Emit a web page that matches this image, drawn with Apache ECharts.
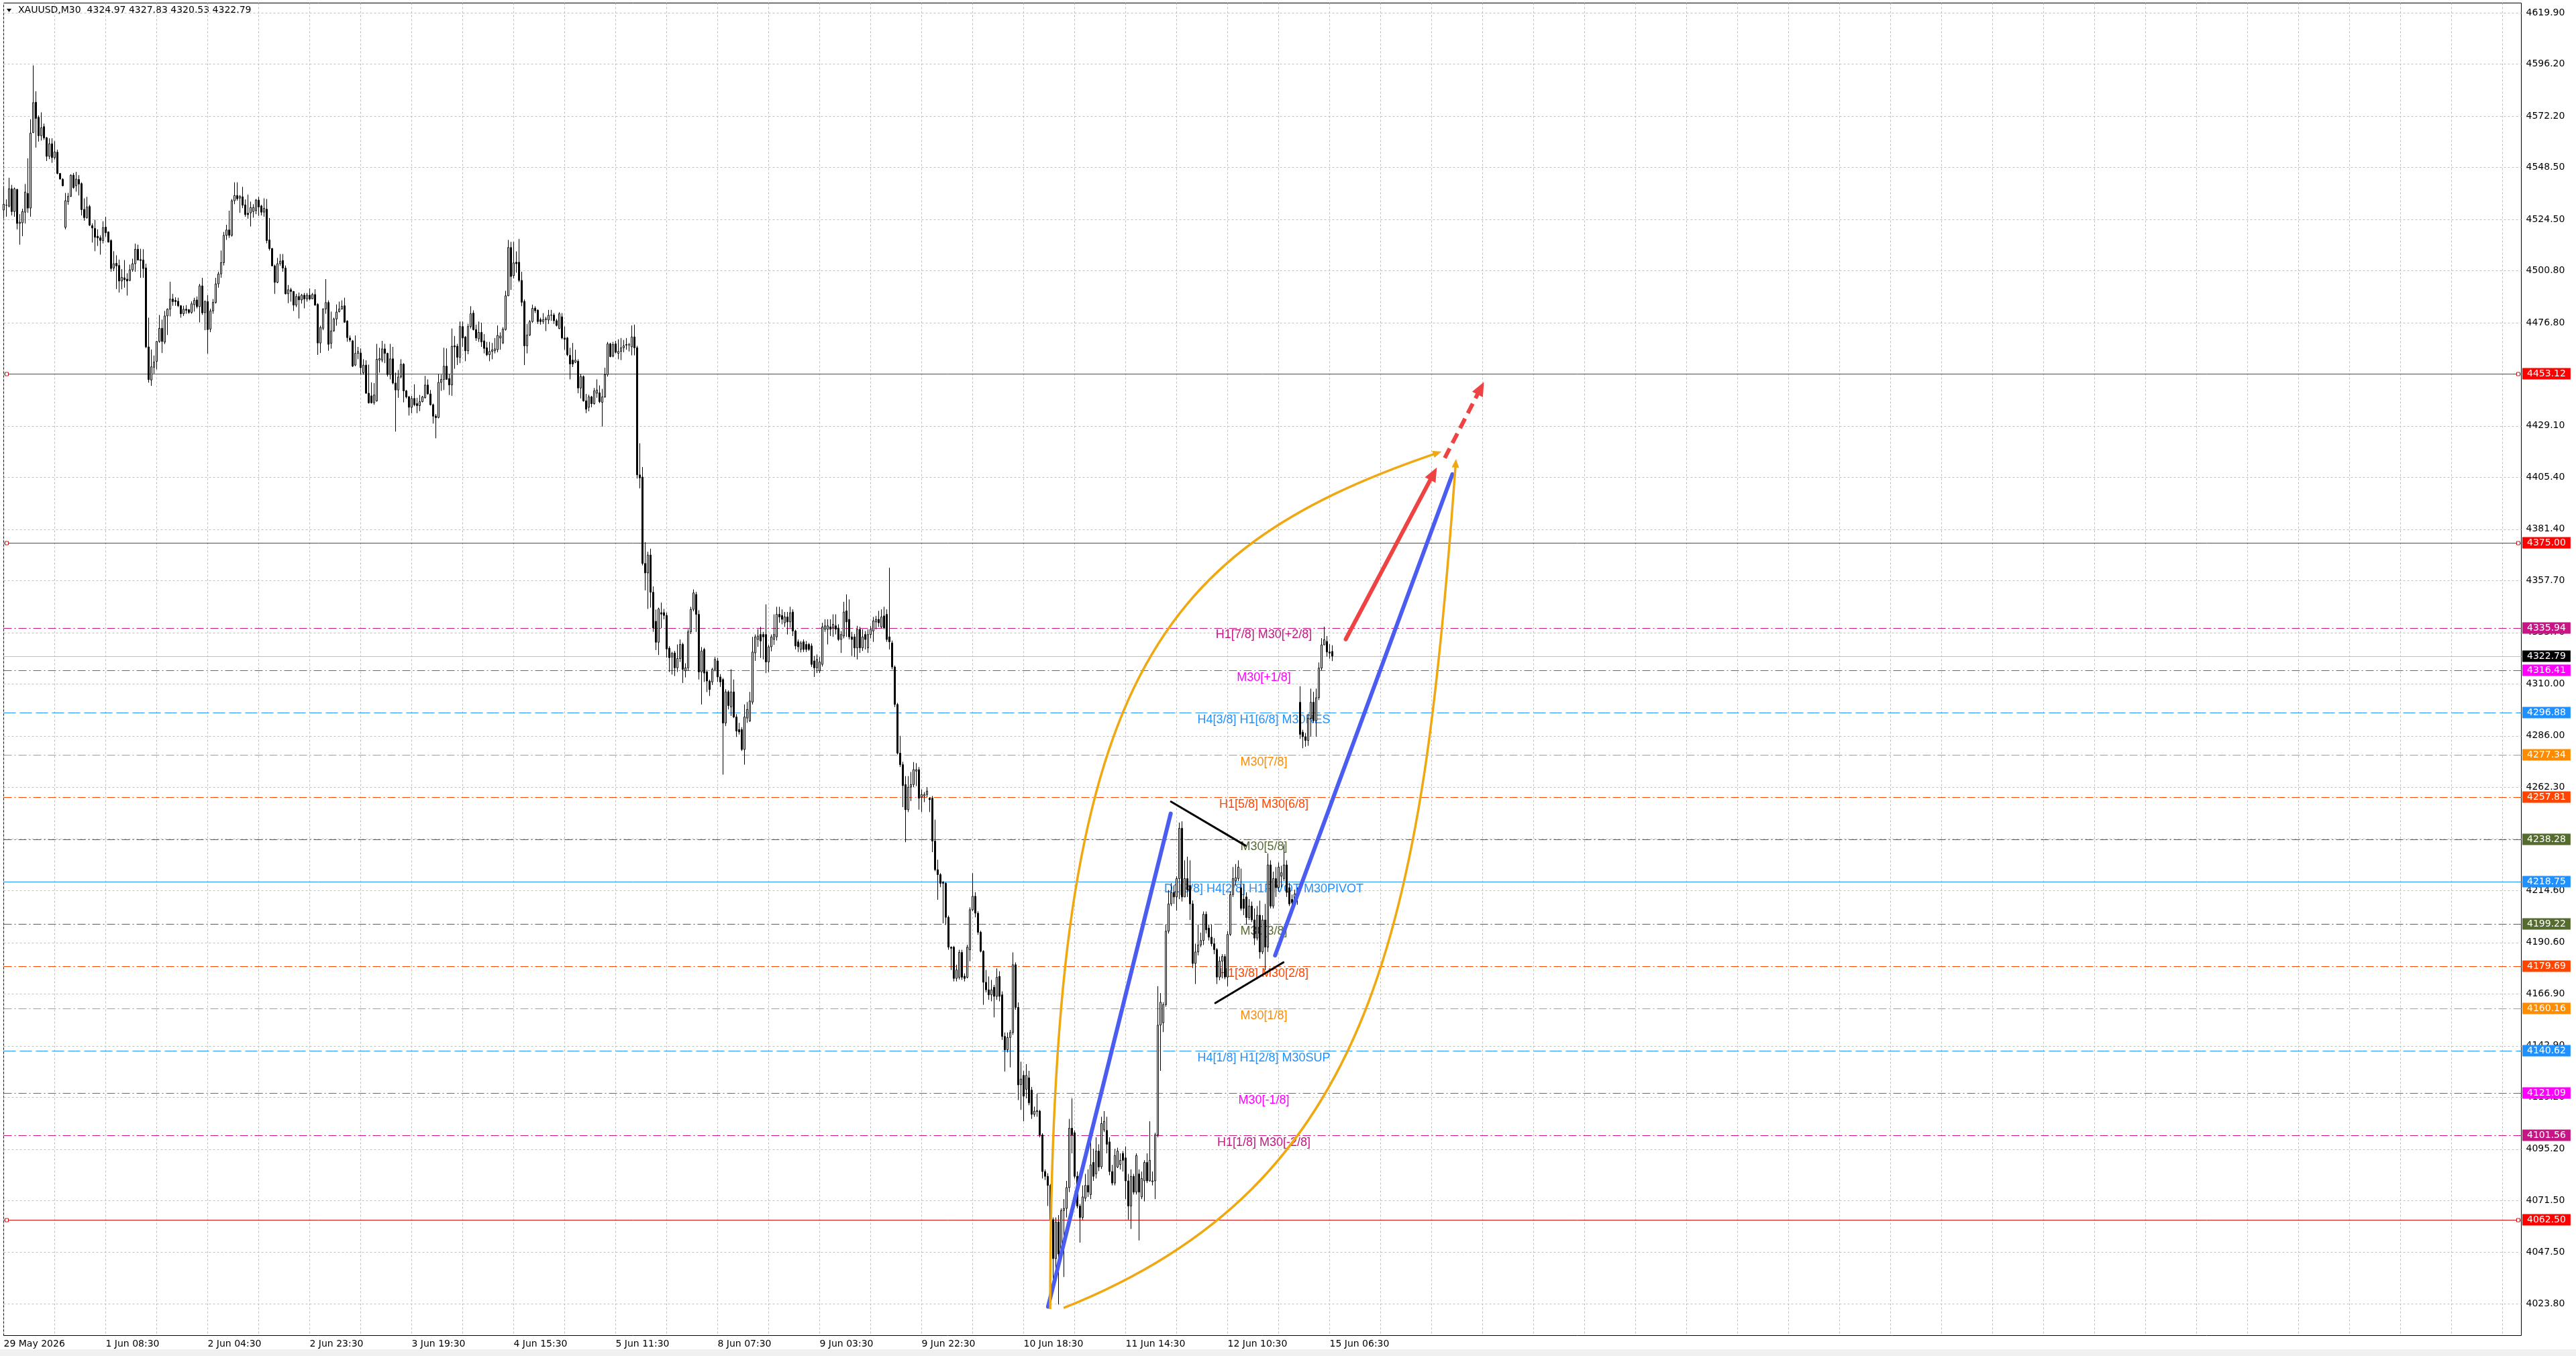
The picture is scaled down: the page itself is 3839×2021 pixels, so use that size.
<!DOCTYPE html>
<html>
<head>
<meta charset="utf-8">
<script src="https://cdn.jsdelivr.net/npm/echarts@6/dist/echarts.min.js"></script>
<style>
html,body{margin:0;padding:0;background:#ffffff;}
#c{width:3839px;height:2021px;}
</style>
</head>
<body>
<div id="c"></div>
<script>
// ---------------- DATA ----------------
const symbolName = 'XAUUSD,M30';
const timeLabels = ['29 May 2026','1 Jun 08:30','2 Jun 04:30','2 Jun 23:30','3 Jun 19:30','4 Jun 15:30','5 Jun 11:30',
  '8 Jun 07:30','9 Jun 03:30','9 Jun 22:30','10 Jun 18:30','11 Jun 14:30','12 Jun 10:30','15 Jun 06:30'];
const LABEL_STEP = 38;      // bars between time labels
const GRID_STEP = 19;       // bars between vertical grid lines
const TOTAL_SLOTS = 939;    // bar slots on the time axis (incl. empty future space)

// candles: [open, close, low, high]
const ohlc = [
[4528.8,4531.5,4525.1,4539.8],[4531.0,4531.0,4525.7,4533.7],[4530.6,4538.6,4530.0,4543.7],[4538.6,4528.1,4526.3,4540.4],[4528.1,4538.6,4525.7,4539.2],
[4538.3,4522.6,4519.9,4538.6],[4522.6,4523.2,4512.8,4526.9],[4522.9,4528.1,4516.7,4529.4],[4527.8,4537.1,4522.6,4540.8],[4536.5,4529.7,4527.5,4552.7],
[4529.7,4564.3,4525.7,4570.7],[4564.6,4578.4,4564.3,4595.6],[4578.6,4571.1,4557.6,4583.6],[4571.6,4563.1,4560.4,4572.5],[4563.1,4566.8,4560.9,4573.9],
[4567.3,4562.1,4561.2,4568.7],[4562.2,4553.6,4551.4,4562.5],[4553.6,4559.4,4552.3,4561.9],[4559.4,4553.0,4550.6,4561.9],[4553.0,4555.6,4552.1,4560.6],
[4555.5,4545.7,4545.3,4556.7],[4545.7,4543.1,4542.9,4545.9],[4543.0,4540.0,4539.8,4543.5],[4520.8,4533.1,4519.9,4536.7],[4532.7,4535.1,4531.2,4536.7],
[4535.1,4544.9,4534.9,4545.3],[4544.9,4539.2,4538.6,4545.9],[4540.0,4543.1,4537.3,4546.4],[4542.9,4540.8,4535.5,4544.9],[4541.0,4529.0,4526.3,4541.6],
[4529.1,4525.3,4523.9,4534.2],[4525.3,4530.2,4524.8,4534.9],[4530.4,4521.8,4521.4,4531.2],[4521.6,4520.5,4513.8,4522.6],[4520.3,4516.2,4509.8,4524.3],
[4516.7,4515.9,4512.2,4519.9],[4516.0,4514.8,4508.2,4517.1],[4514.7,4520.7,4513.4,4523.6],[4520.9,4518.3,4516.5,4525.7],[4518.7,4514.0,4513.8,4518.9],
[4514.7,4501.8,4500.3,4515.3],[4502.0,4504.0,4500.6,4509.8],[4504.2,4503.0,4492.3,4507.9],[4503.2,4496.0,4490.7,4505.9],[4496.0,4497.7,4492.2,4501.5],
[4497.5,4496.6,4492.9,4505.7],[4496.9,4496.0,4489.3,4499.6],[4496.3,4501.2,4495.9,4503.6],[4501.2,4504.0,4500.3,4506.3],[4504.0,4510.7,4500.3,4513.3],
[4510.7,4505.7,4505.5,4512.8],[4505.9,4505.5,4497.5,4510.9],[4505.7,4501.8,4497.5,4510.7],[4502.1,4465.6,4465.0,4504.0],[4465.6,4450.5,4449.1,4479.1],
[4450.3,4456.4,4447.6,4464.4],[4456.2,4458.6,4453.3,4461.6],[4458.9,4468.1,4455.2,4468.3],[4468.1,4474.2,4467.5,4480.3],[4474.2,4468.1,4462.8,4478.2],
[4467.8,4479.9,4466.9,4482.2],[4479.9,4483.0,4471.1,4483.4],[4483.0,4487.7,4479.7,4495.7],[4487.7,4486.5,4484.6,4490.1],[4487.1,4486.5,4484.6,4488.5],
[4486.7,4484.6,4484.0,4488.3],[4484.6,4480.9,4479.1,4484.9],[4480.9,4483.0,4479.9,4484.6],[4483.0,4482.5,4480.9,4484.9],[4482.8,4481.5,4480.9,4483.1],
[4481.5,4485.5,4480.9,4486.6],[4485.1,4487.1,4481.9,4488.3],[4487.3,4484.2,4483.4,4488.9],[4484.2,4493.8,4476.9,4494.7],[4493.8,4481.3,4480.4,4497.5],
[4481.4,4486.5,4473.3,4487.1],[4486.5,4473.6,4462.5,4489.5],[4473.8,4482.2,4472.4,4483.2],[4482.2,4486.2,4480.9,4487.7],[4486.1,4494.7,4485.6,4497.5],
[4494.7,4499.3,4492.9,4500.3],[4499.3,4504.5,4497.5,4510.1],[4504.5,4517.1,4503.2,4518.7],[4517.1,4519.6,4515.0,4522.0],[4519.6,4517.1,4515.9,4528.5],
[4517.1,4533.1,4516.5,4533.9],[4533.1,4535.5,4531.5,4541.6],[4535.5,4534.0,4533.1,4541.6],[4534.3,4535.1,4527.5,4535.7],[4534.9,4531.0,4529.7,4539.5],
[4531.2,4526.7,4525.7,4533.7],[4527.3,4526.7,4524.8,4535.9],[4527.5,4530.0,4521.2,4532.7],[4528.1,4530.0,4525.3,4531.5],[4528.5,4533.4,4526.9,4533.9],
[4533.4,4530.2,4526.1,4534.9],[4530.7,4527.8,4526.3,4531.2],[4527.8,4529.6,4525.7,4534.2],[4529.2,4514.7,4513.4,4533.9],[4515.0,4511.0,4510.1,4525.1],
[4511.0,4503.0,4502.8,4511.3],[4503.0,4495.4,4490.1,4503.6],[4495.4,4504.0,4495.0,4506.7],[4504.0,4505.2,4503.0,4508.5],[4505.5,4502.0,4500.3,4508.5],
[4502.0,4490.1,4489.8,4503.2],[4490.1,4492.0,4485.8,4494.2],[4492.0,4491.2,4486.5,4492.9],[4491.2,4484.9,4482.2,4491.4],[4484.9,4488.9,4484.0,4490.1],
[4488.9,4487.3,4478.7,4490.7],[4487.3,4489.5,4485.6,4490.1],[4489.5,4487.7,4483.4,4490.5],[4487.7,4489.5,4486.5,4490.5],[4489.5,4487.7,4487.1,4492.6],
[4487.8,4489.8,4487.7,4490.5],[4489.8,4484.9,4484.6,4492.2],[4485.2,4467.4,4461.9,4485.8],[4467.4,4474.6,4462.8,4475.4],[4474.2,4483.1,4473.3,4483.4],
[4483.1,4486.1,4480.9,4496.9],[4486.1,4466.8,4463.8,4487.1],[4467.2,4473.0,4464.8,4481.9],[4473.0,4478.5,4472.6,4479.1],[4478.5,4481.7,4475.4,4485.2],
[4481.9,4483.1,4481.5,4486.5],[4483.1,4484.4,4482.8,4487.1],[4484.6,4477.0,4476.7,4488.3],[4477.5,4469.9,4468.0,4477.9],[4469.7,4468.8,4467.9,4470.9],
[4468.4,4456.7,4456.3,4468.8],[4457.2,4462.6,4456.7,4470.9],[4462.6,4463.5,4459.9,4465.6],[4462.8,4456.0,4452.8,4464.9],[4453.7,4457.2,4452.8,4459.9],
[4457.2,4444.2,4443.9,4459.4],[4444.2,4439.8,4439.4,4457.4],[4443.0,4439.8,4439.4,4449.2],[4439.8,4443.4,4438.9,4448.9],[4440.7,4459.9,4440.3,4467.0],
[4459.5,4460.2,4453.7,4465.2],[4459.5,4464.7,4458.5,4468.4],[4464.7,4462.6,4458.1,4467.0],[4462.6,4452.8,4451.9,4462.9],[4452.8,4460.1,4450.6,4467.0],
[4460.1,4448.9,4448.3,4465.6],[4448.9,4445.7,4426.5,4453.7],[4445.7,4451.7,4442.1,4454.9],[4451.7,4457.6,4451.0,4459.9],[4457.6,4445.3,4440.0,4458.1],
[4445.3,4442.5,4441.8,4445.7],[4442.5,4437.7,4433.9,4443.0],[4437.7,4441.8,4435.0,4443.0],[4441.8,4438.9,4438.2,4448.3],[4439.4,4438.5,4435.0,4442.1],
[4438.5,4440.3,4435.9,4443.4],[4440.3,4442.5,4440.0,4443.0],[4442.1,4448.0,4441.8,4452.2],[4448.0,4443.9,4443.5,4450.6],[4443.9,4438.9,4438.5,4445.7],
[4438.9,4433.6,4430.2,4439.4],[4433.7,4432.9,4423.4,4434.6],[4433.0,4449.2,4432.6,4453.1],[4449.2,4450.6,4445.3,4452.8],[4450.6,4456.7,4445.7,4465.2],
[4456.7,4450.6,4450.5,4464.9],[4451.0,4448.0,4443.4,4453.1],[4448.0,4465.9,4443.0,4474.1],[4466.1,4465.6,4455.5,4470.6],[4465.9,4460.8,4457.2,4467.0],
[4460.8,4475.0,4458.1,4477.3],[4475.0,4469.7,4465.6,4477.3],[4470.2,4463.8,4459.0,4470.6],[4463.8,4475.0,4462.2,4476.2],[4475.0,4480.9,4474.1,4484.4],
[4481.2,4473.6,4473.2,4482.5],[4473.6,4469.7,4468.4,4475.9],[4469.3,4472.3,4467.9,4477.3],[4472.3,4467.9,4465.6,4476.8],[4468.4,4464.9,4462.6,4471.5],
[4465.2,4462.0,4461.3,4467.9],[4462.0,4463.5,4459.0,4467.9],[4463.5,4464.2,4459.9,4467.4],[4463.8,4464.7,4462.6,4469.7],[4464.3,4470.9,4463.1,4475.5],
[4469.7,4470.6,4464.3,4472.3],[4467.4,4473.8,4467.0,4474.7],[4473.6,4489.2,4473.1,4491.5],[4489.2,4511.5,4489.1,4515.0],[4511.5,4498.1,4491.9,4514.1],
[4498.5,4504.4,4497.2,4514.1],[4504.7,4504.0,4499.9,4509.7],[4504.7,4496.3,4495.5,4515.4],[4496.3,4486.2,4484.4,4500.3],[4486.6,4466.1,4457.2,4487.5],
[4466.1,4471.1,4462.6,4476.2],[4471.1,4477.3,4470.6,4478.0],[4477.3,4483.4,4476.8,4485.1],[4483.5,4482.3,4481.2,4484.4],[4482.5,4477.3,4476.2,4483.0],
[4478.2,4477.3,4475.9,4479.1],[4477.3,4478.2,4476.2,4481.2],[4478.2,4478.6,4472.9,4479.5],[4478.0,4480.2,4476.2,4482.7],[4480.2,4480.3,4477.7,4482.7],
[4480.3,4477.7,4476.2,4481.2],[4477.7,4475.5,4475.0,4478.6],[4474.1,4480.9,4473.8,4481.6],[4479.5,4469.7,4469.1,4481.2],[4469.7,4469.1,4464.3,4475.0],
[4469.7,4462.0,4461.3,4470.2],[4461.7,4457.7,4450.6,4465.2],[4459.5,4457.7,4456.3,4467.4],[4458.5,4459.5,4458.1,4464.3],[4459.0,4446.6,4444.2,4459.9],
[4446.6,4451.9,4441.8,4453.1],[4451.9,4440.7,4440.3,4452.4],[4440.7,4436.8,4435.0,4443.9],[4437.7,4442.5,4435.9,4443.5],[4442.5,4439.4,4437.7,4443.0],
[4439.4,4445.3,4438.9,4446.6],[4444.2,4445.7,4442.1,4450.6],[4444.4,4440.3,4439.6,4447.8],[4440.0,4442.5,4428.8,4446.2],[4442.5,4452.8,4442.1,4456.0],
[4452.8,4467.0,4451.9,4467.9],[4467.0,4461.1,4460.8,4467.5],[4461.3,4466.7,4460.8,4467.9],[4467.0,4463.1,4462.6,4468.4],[4462.6,4463.5,4459.9,4469.1],
[4463.5,4465.2,4459.5,4469.7],[4465.2,4466.1,4463.1,4468.8],[4466.4,4466.7,4464.3,4469.7],[4466.6,4466.5,4463.5,4467.4],[4465.6,4470.2,4461.7,4475.5],
[4470.2,4465.2,4461.7,4475.9],[4465.2,4406.5,4404.8,4466.1],[4406.5,4405.1,4400.3,4421.1],[4405.5,4365.6,4364.7,4410.1],[4365.6,4361.2,4353.2,4375.4],
[4361.2,4369.5,4344.6,4371.0],[4369.5,4352.3,4345.2,4372.4],[4352.3,4335.8,4334.0,4355.0],[4338.9,4329.2,4325.6,4344.3],[4329.2,4344.6,4323.3,4345.2],
[4342.9,4342.2,4335.8,4347.5],[4342.9,4341.6,4339.8,4344.6],[4341.6,4326.1,4322.1,4342.9],[4326.5,4322.1,4315.5,4327.4],[4322.4,4324.1,4314.3,4324.8],
[4324.3,4317.4,4313.6,4325.2],[4317.4,4321.7,4315.5,4328.2],[4321.7,4328.2,4320.1,4330.5],[4328.2,4316.7,4310.4,4329.0],[4316.0,4317.4,4313.0,4319.5],
[4317.4,4334.0,4316.0,4335.2],[4334.0,4344.4,4333.0,4345.6],[4344.4,4352.0,4343.5,4353.6],[4351.3,4342.1,4334.0,4352.5],[4342.1,4315.5,4312.0,4344.0],
[4315.5,4325.2,4300.5,4327.0],[4325.9,4315.0,4310.9,4326.6],[4315.5,4311.3,4306.2,4316.5],[4311.3,4307.4,4304.4,4312.0],[4310.9,4316.7,4309.5,4317.4],
[4316.7,4321.3,4315.8,4322.4],[4320.6,4313.2,4310.9,4322.0],[4313.2,4310.9,4308.6,4314.5],[4312.0,4291.9,4268.1,4312.7],[4291.9,4306.3,4290.5,4307.5],
[4306.3,4300.0,4298.2,4307.0],[4299.3,4306.3,4295.2,4316.7],[4306.3,4294.7,4294.2,4312.0],[4294.7,4288.2,4285.5,4296.0],[4288.9,4287.8,4286.6,4292.0],
[4288.9,4279.7,4279.0,4290.0],[4279.7,4294.7,4272.7,4300.5],[4294.2,4298.2,4292.0,4301.6],[4292.9,4302.1,4292.4,4306.3],[4301.6,4324.7,4300.5,4331.7],
[4324.3,4331.7,4320.6,4332.8],[4330.5,4332.1,4327.1,4335.2],[4332.8,4329.8,4322.0,4336.3],[4332.8,4331.7,4321.3,4334.0],[4332.8,4320.1,4315.0,4346.7],
[4320.1,4327.1,4315.5,4328.0],[4327.1,4331.7,4325.0,4332.8],[4330.5,4332.8,4328.0,4342.1],[4331.7,4342.1,4330.0,4345.6],[4342.1,4340.9,4338.2,4345.6],
[4341.6,4339.8,4337.5,4344.4],[4338.2,4340.9,4336.3,4343.2],[4340.9,4338.6,4332.8,4343.2],[4338.6,4342.8,4336.0,4345.6],[4343.2,4334.4,4332.1,4344.4],
[4334.4,4327.5,4325.9,4335.0],[4329.4,4327.1,4324.7,4330.5],[4325.9,4328.9,4324.5,4329.8],[4329.4,4325.9,4324.7,4330.5],[4328.2,4325.9,4324.7,4329.8],
[4328.2,4325.9,4325.2,4328.9],[4327.5,4319.0,4317.8,4328.7],[4320.6,4317.4,4313.2,4322.9],[4317.4,4321.3,4315.0,4323.6],[4316.0,4320.1,4315.0,4322.4],
[4319.0,4336.3,4318.0,4338.2],[4335.2,4336.8,4334.0,4339.8],[4335.2,4336.8,4328.2,4339.8],[4336.3,4335.2,4332.1,4339.8],[4335.8,4337.5,4331.7,4342.1],
[4336.8,4335.2,4332.8,4342.1],[4335.8,4330.5,4329.8,4337.5],[4330.5,4332.8,4324.3,4334.4],[4332.1,4343.2,4331.0,4347.9],[4343.7,4338.6,4331.7,4351.3],
[4339.8,4331.7,4330.5,4349.0],[4331.7,4330.5,4322.9,4334.0],[4331.7,4326.6,4322.4,4333.0],[4326.6,4335.2,4321.3,4336.8],[4335.2,4326.6,4324.3,4336.3],
[4326.6,4331.7,4325.2,4335.2],[4332.8,4330.5,4325.9,4334.4],[4326.6,4332.8,4324.3,4335.2],[4332.8,4335.2,4331.0,4336.8],[4334.4,4339.1,4329.4,4340.9],
[4338.6,4339.8,4335.2,4341.4],[4339.8,4338.2,4336.3,4343.7],[4336.3,4340.9,4335.8,4344.4],[4341.4,4335.8,4335.2,4345.6],[4342.1,4330.5,4329.4,4344.4],
[4331.7,4329.4,4325.9,4363.6],[4328.9,4317.8,4316.7,4330.0],[4317.8,4300.5,4299.3,4318.5],[4300.5,4278.0,4277.4,4301.2],[4278.0,4272.7,4271.6,4286.0],
[4272.7,4263.0,4253.1,4274.0],[4263.5,4251.9,4236.9,4267.4],[4251.9,4262.3,4250.8,4267.4],[4262.3,4263.5,4255.9,4269.3],[4263.5,4270.4,4262.3,4273.9],
[4269.7,4270.4,4262.8,4273.4],[4270.4,4257.2,4251.9,4271.6],[4257.7,4258.9,4250.8,4261.2],[4258.2,4258.9,4255.4,4260.0],[4258.9,4260.5,4257.7,4262.3],
[4257.2,4256.5,4250.8,4257.7],[4257.2,4237.4,4232.3,4258.2],[4237.4,4224.2,4223.5,4247.3],[4224.2,4221.9,4210.3,4228.8],[4221.9,4217.9,4216.1,4222.6],
[4218.4,4217.9,4199.4,4218.9],[4217.9,4202.2,4198.7,4218.4],[4202.2,4188.4,4187.2,4203.0],[4188.4,4187.9,4177.9,4188.8],[4188.4,4174.0,4172.6,4189.0],
[4174.0,4177.9,4172.6,4180.3],[4174.5,4186.0,4173.5,4187.2],[4186.0,4174.5,4173.3,4187.2],[4175.0,4174.0,4172.6,4176.3],[4174.5,4188.4,4174.0,4189.5],
[4187.2,4205.7,4181.9,4206.8],[4205.7,4211.9,4205.0,4222.6],[4211.9,4204.1,4202.2,4213.8],[4204.1,4195.3,4194.1,4205.0],[4195.3,4186.5,4186.0,4196.0],
[4186.5,4172.2,4161.8,4187.0],[4172.2,4168.7,4167.5,4177.9],[4168.7,4166.4,4164.1,4174.9],[4166.4,4168.7,4163.4,4173.3],[4169.9,4165.7,4156.0,4171.0],
[4165.7,4174.5,4164.1,4178.6],[4174.9,4165.7,4163.4,4177.3],[4166.4,4147.2,4145.6,4168.0],[4147.2,4141.0,4131.0,4149.0],[4141.0,4146.7,4139.8,4149.0],
[4146.7,4149.0,4132.9,4150.2],[4149.0,4180.3,4147.9,4186.0],[4180.3,4160.6,4159.5,4181.4],[4160.6,4124.8,4117.8,4162.9],[4124.9,4127.5,4113.3,4135.5],
[4129.2,4119.6,4108.0,4131.3],[4122.8,4129.2,4118.6,4134.4],[4128.1,4116.5,4115.4,4131.3],[4122.4,4111.2,4109.1,4123.9],[4111.2,4112.7,4110.1,4114.8],
[4112.5,4112.9,4110.1,4120.7],[4112.7,4101.7,4100.6,4113.3],[4101.7,4084.8,4081.6,4102.5],[4084.8,4082.6,4080.9,4085.8],[4082.6,4078.4,4068.9,4084.0],
[4078.4,4062.6,4050.9,4079.0],[4062.6,4044.6,4031.9,4063.6],[4044.6,4061.5,4039.3,4063.6],[4061.5,4046.7,4023.4,4064.7],[4046.7,4066.8,4044.6,4067.8],
[4066.8,4067.8,4036.1,4072.1],[4067.8,4077.4,4063.6,4080.5],[4077.4,4104.8,4075.3,4109.1],[4104.8,4101.7,4093.2,4118.6],[4102.7,4082.6,4081.6,4103.8],
[4082.6,4068.9,4067.8,4084.8],[4068.9,4063.6,4052.0,4069.9],[4063.6,4073.1,4062.6,4078.4],[4072.5,4078.4,4071.0,4083.7],[4078.4,4075.3,4073.1,4085.8],
[4074.2,4087.9,4072.1,4102.7],[4089.0,4082.6,4080.5,4095.3],[4083.7,4094.3,4081.6,4100.6],[4094.3,4086.9,4085.0,4097.4],[4087.0,4107.0,4086.0,4110.1],
[4104.0,4108.0,4103.0,4112.7],[4103.8,4097.4,4093.2,4110.1],[4098.5,4084.8,4083.1,4100.6],[4084.8,4079.5,4078.4,4087.9],[4079.5,4092.2,4078.4,4095.3],
[4086.9,4094.3,4086.4,4095.8],[4088.0,4090.0,4085.8,4093.2],[4093.2,4090.0,4084.8,4094.3],[4091.1,4080.5,4072.1,4096.4],[4080.5,4068.9,4062.6,4083.7],
[4068.9,4082.6,4058.3,4085.8],[4082.6,4075.3,4074.2,4083.7],[4075.3,4092.2,4074.2,4093.2],[4083.7,4075.3,4053.0,4085.8],[4073.1,4081.6,4072.1,4084.8],
[4080.5,4089.0,4071.0,4090.0],[4089.0,4080.5,4079.5,4093.2],[4080.5,4090.0,4080.1,4108.0],[4080.1,4080.5,4078.4,4084.8],[4080.5,4101.7,4072.1,4102.7],
[4101.7,4152.4,4100.6,4170.4],[4152.4,4163.0,4131.3,4167.2],[4153.5,4161.9,4149.2,4163.0],[4161.9,4195.8,4160.9,4198.9],[4195.8,4208.4,4194.7,4214.8],
[4208.4,4213.7,4207.4,4218.0],[4213.7,4211.6,4208.4,4216.9],[4211.6,4220.1,4205.3,4221.1],[4220.1,4243.3,4210.6,4245.9],[4243.3,4211.6,4209.5,4246.5],
[4211.6,4220.1,4211.6,4228.5],[4220.1,4214.8,4211.6,4230.2],[4216.9,4208.4,4201.0,4228.5],[4208.4,4180.9,4178.8,4210.0],[4180.9,4186.2,4171.4,4190.0],
[4186.2,4189.4,4184.6,4198.9],[4189.4,4191.5,4188.4,4195.1],[4191.5,4203.6,4189.4,4204.9],[4203.6,4196.4,4194.7,4204.9],[4197.2,4193.0,4191.5,4198.9],
[4193.0,4190.0,4188.8,4198.9],[4190.0,4187.3,4185.2,4192.6],[4187.3,4174.6,4171.4,4188.0],[4174.6,4182.0,4173.1,4184.1],[4182.0,4184.1,4174.0,4185.2],
[4184.1,4174.6,4173.6,4185.2],[4174.6,4194.3,4170.4,4195.8],[4194.3,4212.7,4193.6,4214.2],[4212.7,4220.1,4211.6,4225.4],[4219.0,4220.5,4216.9,4226.8],
[4220.1,4225.4,4219.0,4228.5],[4215.9,4206.3,4205.3,4224.7],[4210.6,4206.3,4203.2,4217.5],[4211.6,4202.1,4198.9,4213.7],[4202.1,4207.4,4201.0,4210.6],
[4207.4,4201.0,4200.0,4209.5],[4201.0,4192.6,4189.4,4206.3],[4192.6,4203.2,4191.5,4207.4],[4203.2,4186.2,4183.1,4209.9],[4186.2,4201.0,4185.2,4203.2],
[4201.0,4188.4,4177.8,4208.4],[4188.4,4226.4,4186.2,4231.7],[4226.4,4207.4,4206.3,4228.5],[4207.4,4220.1,4206.3,4223.3],[4220.1,4215.9,4211.6,4225.4],
[4215.9,4225.4,4214.0,4227.5],[4221.2,4222.8,4216.0,4226.0],[4220.1,4226.4,4219.0,4235.9],[4226.4,4213.7,4211.6,4228.5],[4215.9,4208.4,4207.4,4218.0],
[4210.5,4209.0,4207.0,4212.7],[4209.0,4213.0,4207.5,4215.0],[4213.0,4211.0,4208.0,4216.0],[4301.5,4286.7,4284.6,4308.9],[4287.7,4285.6,4280.3,4288.8],
[4285.6,4283.9,4281.0,4287.3],[4283.9,4294.1,4281.4,4296.2],[4294.1,4301.5,4285.6,4307.8],[4301.5,4293.0,4292.0,4306.3],[4293.0,4303.6,4285.6,4307.8],
[4303.6,4317.3,4302.5,4319.9],[4317.3,4328.0,4316.3,4331.1],[4328.0,4330.4,4327.9,4336.4],[4329.6,4324.7,4322.6,4332.1],[4324.7,4324.2,4321.6,4328.3],
[4324.97,4322.79,4320.53,4327.83]
];

// price axis tick labels
const yTicks = [4023.80,4047.50,4071.50,4095.20,4119.20,4142.90,4166.90,4190.60,4214.60,4238.60,4262.30,4286.00,4310.00,
  4333.70,4357.70,4381.40,4405.40,4429.10,4453.10,4476.80,4500.80,4524.50,4548.50,4572.20,4596.20,4619.90];

// Murrey math levels
const levelPrices = [4335.94,4316.41,4296.88,4277.34,4257.81,4238.28,4218.75,4199.22,4179.69,4160.16,4140.62,4121.09,4101.56];
const levelNames = ['H1[7/8] M30[+2/8]','M30[+1/8]','H4[3/8] H1[6/8] M30RES','M30[7/8]','H1[5/8] M30[6/8]','M30[5/8]',
  'D1[3/8] H4[2/8] H1PIVOT M30PIVOT','M30[3/8]','H1[3/8] M30[2/8]','M30[1/8]','H4[1/8] H1[2/8] M30SUP','M30[-1/8]','H1[1/8] M30[-2/8]'];
// red horizontal support / resistance lines
const redLevels = [4453.12,4375.00,4062.50];
const lastPrice = 4322.79;

// hand-drawn objects (bar index, price)
const trendLines = [
  [389.1,4022.4,434.8,4250.1],   // blue impulse
  [473.7,4184.6,539.75,4406.8],  // blue channel
  [434.9,4255.6,462.7,4235.3],   // black triangle top
  [451.4,4162.6,476.8,4181.4],   // black triangle bottom
  [500.0,4330.6,533.95,4409.9],  // red arrow
  [536.9,4414.3,551.5,4449.4]    // red dashed arrow
];
const arcs = [
  [389.9,4021.3, 389.9,4306.4, 425.7,4370.8, 535.7,4417.3],
  [394.9,4021.8, 511.2,4079.1, 528.5,4197.6, 541.1,4413.9]
];

// ---------------- STYLE ----------------
const Y_MIN = 4009.08, Y_MAX = 4624.39;
const LEVEL_LABEL_X = 469.5;
const levelColors = ['#c71585','#ff00ff','#1e90ff','#ff8c00','#ff4500','#556b2f','#1e90ff','#556b2f','#ff4500','#ff8c00','#1e90ff','#ff00ff','#c71585'];
const levelStyles = ['dashdot','dashdot','dash','dashdot','dashdot','dashdot','solid','dashdot','dashdot','dashdot','dash','dashdot','dashdot'];
const dashPatterns = {dashdot:[12,4,2,4], dash:[18,6], solid:null};
const trendStyles = [
  {color:'#4a5df0', width:6, dash:null, arrow:null},
  {color:'#4a5df0', width:6, dash:null, arrow:null},
  {color:'#000000', width:3, dash:null, arrow:null},
  {color:'#000000', width:3, dash:null, arrow:null},
  {color:'#ef4343', width:6, dash:null, arrow:[21,9]},
  {color:'#ef4343', width:6, dash:[16,9], arrow:[21,9]}
];
const arcStyle = {color:'#f0a810', width:3.5, arrow:[13,5.5]};
const AXIS_FONT = '"DejaVu Sans", Verdana, sans-serif';

// ---------------- BUILD ----------------
const categories = Array.from({length: TOTAL_SLOTS}, (_, i) => String(i));

function crisp(v){ return Math.round(v) + 0.5; }
function fullLine(params, api, price, stroke, dash, width){
  const cs = params.coordSys;
  const y = crisp(api.coord([0, price])[1]);
  return {type:'line', silent:true, shape:{x1:cs.x, y1:y, x2:cs.x+cs.width, y2:y},
    style:{stroke:stroke, lineWidth:width, lineDash:dash || null}};
}
function arrowHead(tip, from, len, half, color){
  const dx = tip[0]-from[0], dy = tip[1]-from[1];
  const d = Math.hypot(dx, dy) || 1;
  const ux = dx/d, uy = dy/d;
  const bx = tip[0]-ux*len, by = tip[1]-uy*len;
  return {type:'polygon', silent:true, shape:{points:[[tip[0],tip[1]],[bx-uy*half, by+ux*half],[bx+uy*half, by-ux*half]]},
    style:{fill:color}};
}

const boxPrices = levelPrices.concat(redLevels, [lastPrice]);
const boxColors = levelColors.concat(redLevels.map(() => '#ff0000'), ['#000000']);

const option = {
  animation: false,
  backgroundColor: '#ffffff',
  grid: {left:5.5, right:81.5, top:4.5, bottom:30.5, show:true, borderColor:'#000000', borderWidth:1, backgroundColor:'#ffffff'},
  xAxis: [
    {type:'category', data:categories, boundaryGap:false,
      axisLine:{show:false}, axisTick:{show:false},
      axisLabel:{interval:(i) => i % LABEL_STEP === 0 && i / LABEL_STEP < timeLabels.length,
        formatter:(v, i) => timeLabels[Math.round(i / LABEL_STEP)] || '',
        align:'left', margin:6, color:'#000', fontFamily:AXIS_FONT, fontSize:14},
      splitLine:{show:true, interval:(i) => i % GRID_STEP === 0, lineStyle:{color:'#c0c0c0', type:[3,3], width:1}}},
    {type:'value', min:0, max:TOTAL_SLOTS-1, show:false}
  ],
  yAxis: {type:'value', position:'right', min:Y_MIN, max:Y_MAX, scale:true,
    axisLine:{show:false}, axisTick:{show:false}, splitLine:{show:false},
    axisLabel:{customValues:yTicks, formatter:(v) => Number(v).toFixed(2), margin:7, color:'#000', fontFamily:AXIS_FONT, fontSize:14}},
  graphic: [
    {type:'polygon', shape:{points:[[10,13],[17,13],[13.5,18]]}, style:{fill:'#000'}},
    {type:'text', left:27, top:8, style:{text: symbolName + '  ' + [ohlc[ohlc.length-1][0], ohlc[ohlc.length-1][3], ohlc[ohlc.length-1][2], ohlc[ohlc.length-1][1]].map(v => v.toFixed(2)).join(' '),
      font:'14px ' + AXIS_FONT, fill:'#000'}},
    {type:'rect', left:0, top:2011, shape:{width:3839, height:10}, style:{fill:'#f0f0f0'}}
  ],
  series: [
    {type:'custom', name:'hgrid', xAxisIndex:1, yAxisIndex:0, z:1, silent:true,
      data: yTicks.map(v => [0, v]),
      renderItem:(p, api) => fullLine(p, api, api.value(1), '#c0c0c0', [3,3], 1)},
    {type:'custom', name:'levels', xAxisIndex:1, yAxisIndex:0, z:2, silent:true,
      data: levelPrices.map((v, k) => [0, v, k]),
      renderItem:(p, api) => { const k = api.value(2); return fullLine(p, api, api.value(1), levelColors[k], dashPatterns[levelStyles[k]], 1); }},
    {type:'custom', name:'redlines', xAxisIndex:1, yAxisIndex:0, z:2, silent:true,
      data: redLevels.map(v => [0, v]),
      renderItem:(p, api) => {
        const cs = p.coordSys;
        const ln = fullLine(p, api, api.value(1), '#d41010', null, 1);
        const y = ln.shape.y1;
        return {type:'group', children:[ln,
          {type:'rect', shape:{x:cs.x+2, y:y-2.5, width:5, height:5}, style:{fill:'#fff', stroke:'#d41010', lineWidth:1}},
          {type:'rect', shape:{x:cs.x+cs.width-7, y:y-2.5, width:5, height:5}, style:{fill:'#fff', stroke:'#d41010', lineWidth:1}}]};
      }},
    {type:'custom', name:'bid', xAxisIndex:1, yAxisIndex:0, z:2, silent:true,
      data: [[0, lastPrice]],
      renderItem:(p, api) => fullLine(p, api, api.value(1), '#c0c0c0', null, 1)},
    {type:'custom', name:'levelText', xAxisIndex:1, yAxisIndex:0, z:3, silent:true,
      data: levelPrices.map((v, k) => [LEVEL_LABEL_X, v, k]),
      renderItem:(p, api) => {
        const k = api.value(2);
        const pt = api.coord([api.value(0), api.value(1)]);
        return {type:'text', silent:true, x:pt[0], y:pt[1] + 2,
          style:{text:levelNames[k], fill:levelColors[k], font:'18px "Liberation Sans", Arial, sans-serif', align:'center', verticalAlign:'top'}};
      }},
    {type:'candlestick', name:'XAUUSD', xAxisIndex:0, yAxisIndex:0, z:5, barWidth:2,
      data: ohlc,
      itemStyle:{color:'#ffffff', color0:'#000000', borderColor:'#000000', borderColor0:'#000000', borderWidth:1}},
    {type:'custom', name:'trendlines', xAxisIndex:1, yAxisIndex:0, z:6, silent:true,
      data: trendLines.map((t, k) => t.concat([k])),
      renderItem:(p, api) => {
        const k = api.value(4);
        const st = trendStyles[k];
        const a = api.coord([api.value(0), api.value(1)]);
        const b = api.coord([api.value(2), api.value(3)]);
        const children = [];
        let end = b;
        if (st.arrow) {
          const dx = b[0]-a[0], dy = b[1]-a[1], d = Math.hypot(dx, dy);
          end = [b[0]-dx/d*st.arrow[0]*0.8, b[1]-dy/d*st.arrow[0]*0.8];
        }
        children.push({type:'line', silent:true, shape:{x1:a[0], y1:a[1], x2:end[0], y2:end[1]},
          style:{stroke:st.color, lineWidth:st.width, lineDash:st.dash, lineCap: st.dash ? 'butt' : 'round'}});
        if (st.arrow) children.push(arrowHead(b, a, st.arrow[0], st.arrow[1], st.color));
        return {type:'group', children:children};
      }},
    {type:'custom', name:'arcs', xAxisIndex:1, yAxisIndex:0, z:6, silent:true,
      data: arcs,
      renderItem:(p, api) => {
        const p0 = api.coord([api.value(0), api.value(1)]);
        const p1 = api.coord([api.value(2), api.value(3)]);
        const p2 = api.coord([api.value(4), api.value(5)]);
        const p3 = api.coord([api.value(6), api.value(7)]);
        const dx = p3[0]-p2[0], dy = p3[1]-p2[1], d = Math.hypot(dx, dy);
        const e = [p3[0]-dx/d*arcStyle.arrow[0]*0.7, p3[1]-dy/d*arcStyle.arrow[0]*0.7];
        return {type:'group', children:[
          {type:'bezierCurve', silent:true, shape:{x1:p0[0], y1:p0[1], cpx1:p1[0], cpy1:p1[1], cpx2:p2[0], cpy2:p2[1], x2:e[0], y2:e[1]},
            style:{stroke:arcStyle.color, lineWidth:arcStyle.width, fill:null}},
          arrowHead(p3, p2, arcStyle.arrow[0], arcStyle.arrow[1], arcStyle.color)
        ]};
      }},
    {type:'custom', name:'priceBoxes', xAxisIndex:1, yAxisIndex:0, z:7, silent:true, clip:false,
      data: boxPrices.map((v, k) => [0, v, k]),
      renderItem:(p, api) => {
        const k = api.value(2);
        const cs = p.coordSys;
        const y = api.coord([0, api.value(1)])[1];
        return {type:'text', silent:true, x:Math.round(cs.x + cs.width + 1), y:Math.round(y),
          style:{text:boxPrices[k].toFixed(2), fill:'#ffffff', backgroundColor:boxColors[k], padding:[2,7,1,7],
            font:'14px ' + AXIS_FONT, align:'left', verticalAlign:'middle'}};
      }}
  ]
};

const chart = echarts.init(document.getElementById('c'));
chart.setOption(option);
</script>
</body>
</html>
